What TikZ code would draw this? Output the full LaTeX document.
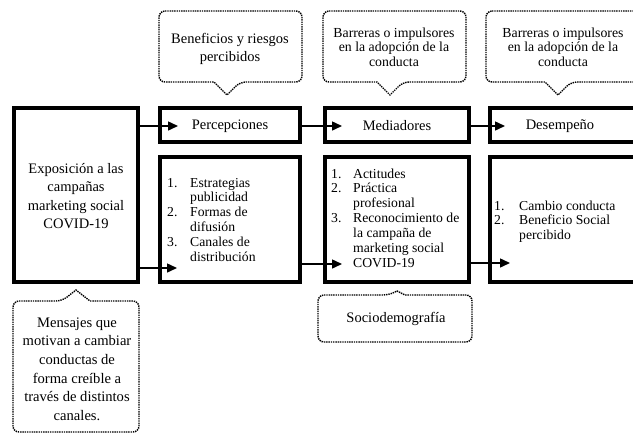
\documentclass[tikz,border=0pt]{standalone}
\usepackage{fontspec}
\setmainfont{Liberation Serif}
\usetikzlibrary{arrows.meta,calc}
\begin{document}
\begin{tikzpicture}[x=1pt,y=1pt,
  bigbox/.style={draw, line width=4.3pt, inner sep=0pt},
  callout/.style={draw, line width=1.4pt, dash pattern=on 1.4pt off 0.9pt, rounded corners=6pt},
  arr/.style={line width=1.5pt, -{Triangle[length=10pt,width=9pt]}},
  maintxt/.style={font=\fontsize{14.5}{18.3}\selectfont, align=center, inner sep=0pt},
  smalltxt/.style={font=\fontsize{13.8}{14.6}\selectfont, align=center, inner sep=0pt},
  listtxt/.style={font=\fontsize{13.7}{14.9}\selectfont, inner sep=0pt, anchor=base west}
]
\useasboundingbox (0,0) rectangle (633,-434);

% main boxes
\node[bigbox, minimum width=124pt, minimum height=174pt] (expo) at (76,-195) {};
\node[maintxt] (expotxt) at (76,-196) {Exposición a las\\campañas\\marketing social\\COVID-19};

\node[bigbox, minimum width=140pt, minimum height=34pt] (perc) at (230,-125) {};
\node[maintxt] (perctxt) at (230,-126) {Percepciones};
\node[bigbox, minimum width=140pt, minimum height=125pt] (lst1) at (230,-219.5) {};

\node[bigbox, minimum width=144pt, minimum height=34pt] (med) at (397,-125) {};
\node[maintxt] (medtxt) at (397,-126) {Mediadores};
\node[bigbox, minimum width=144pt, minimum height=125pt] (lst2) at (397,-219.5) {};

\node[bigbox, minimum width=150pt, minimum height=34pt] (des) at (565,-125) {};
\node[maintxt] (destxt) at (560,-126) {Desempeño};
\node[bigbox, minimum width=150pt, minimum height=125pt] (lst3) at (565,-219.5) {};

% lists
\node[listtxt] (l1) at (167,-187) {\begin{tabular}[t]{@{}p{23pt}@{}l@{}}
1. & Estrategias\\ & publicidad\\ 2. & Formas de\\ & difusión\\ 3. & Canales de\\ & distribución
\end{tabular}};
\node[listtxt] (l2) at (331,-178) {\begin{tabular}[t]{@{}p{22pt}@{}l@{}}
1. & Actitudes\\ 2. & Práctica\\ & profesional\\ 3. & Reconocimiento de\\ & la campaña de\\ & marketing social\\ & COVID-19
\end{tabular}};
\node[listtxt] (l3) at (494,-210) {\begin{tabular}[t]{@{}p{25pt}@{}l@{}}
1. & Cambio conducta\\ 2. & Beneficio Social\\ & percibido
\end{tabular}};

% arrow end points
\coordinate (a1) at (178,-126);
\coordinate (a2) at (342,-126);
\coordinate (a3) at (505,-126);
\coordinate (b1) at (177,-268);
\coordinate (b2) at (342,-264);
\coordinate (b3) at (510,-263);

\draw[arr] (expo.east |- a1) -- (a1);
\draw[arr] (perc.east |- a2) -- (a2);
\draw[arr] (med.east |- a3) -- (a3);
\draw[arr] (expo.east |- b1) -- (b1);
\draw[arr] (lst1.east |- b2) -- (b2);
\draw[arr] (lst2.east |- b3) -- (b3);

% callouts top
\draw[callout] (159,-11) -- (302,-11) -- (302,-82) -- (240,-82) [sharp corners] -- (227,-95) -- (214,-82) [rounded corners=6pt] -- (159,-82) -- cycle;
\node[maintxt] (c1) at (230,-49) {Beneficios y riesgos\\percibidos};

\draw[callout] (323,-11) -- (466,-11) -- (466,-82) -- (403,-82) [sharp corners] -- (390,-95) -- (377,-82) [rounded corners=6pt] -- (323,-82) -- cycle;
\node[smalltxt] (c2) at (394,-47) {Barreras o impulsores\\en la adopción de la\\conducta};

\draw[callout] (486,-11) -- (645,-11) -- (645,-82) -- (571,-82) [sharp corners] -- (558,-95) -- (545,-82) [rounded corners=6pt] -- (486,-82) -- cycle;
\node[smalltxt] (c3) at (563,-47) {Barreras o impulsores\\en la adopción de la\\conducta};

% callouts bottom
\draw[callout] (13,-301) -- (62,-301) [sharp corners] -- (76,-290) -- (90,-301) [rounded corners=6pt] -- (139,-301) -- (139,-432) -- (13,-432) -- cycle;
\node[maintxt, font=\fontsize{14.6}{18.6}\selectfont] (c4) at (77,-369) {Mensajes que\\motivan a cambiar\\conductas de\\forma creíble a\\través de distintos\\canales.};

\draw[callout] (318,-295) -- (389,-295) [sharp corners] -- (397,-291) -- (405,-295) [rounded corners=6pt] -- (472,-295) -- (472,-342) -- (318,-342) -- cycle;
\node[maintxt] (c5) at (396,-319) {Sociodemografía};
\end{tikzpicture}
\end{document}
